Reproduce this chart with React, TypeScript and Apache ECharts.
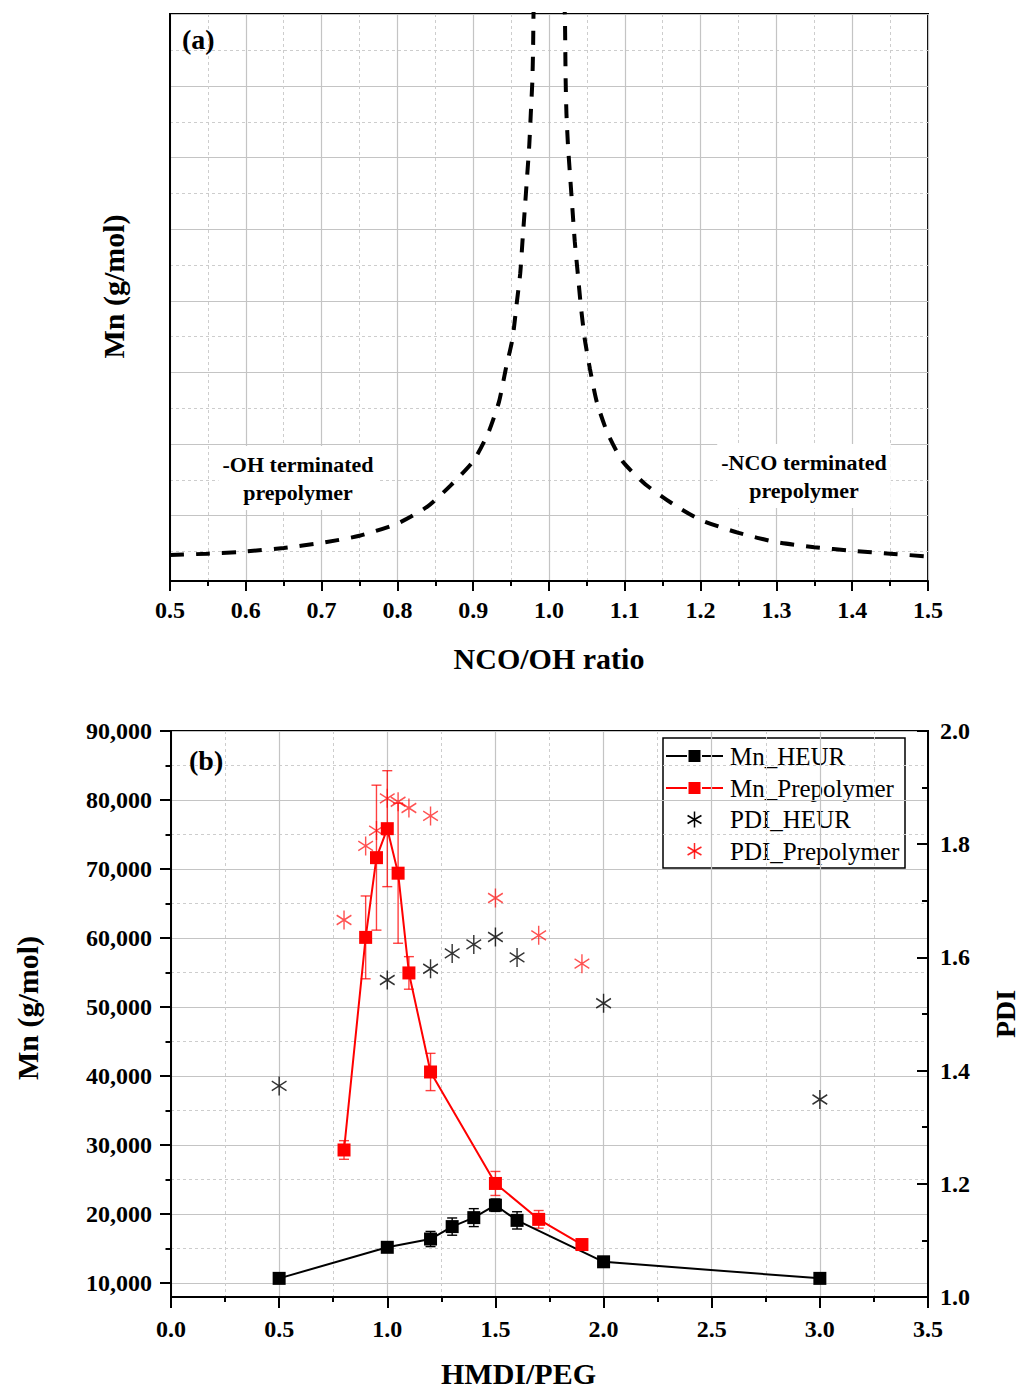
import React, { useEffect, useRef } from 'react';
import * as echarts from 'echarts';

const FONT = 'Liberation Serif';

// ---------- Panel (a): theoretical Mn vs NCO/OH ratio (relative units) ----------
const ohBranch: [number, number][] = [
  [0.5, 4.5], [0.55, 4.7], [0.6, 5.0], [0.65, 5.5], [0.7, 6.2], [0.75, 7.2], [0.8, 8.9],
  [0.84, 11.3], [0.87, 14.2], [0.9, 17.6], [0.92, 21.6], [0.934, 25.9], [0.943, 30.5],
  [0.952, 34.8], [0.957, 39.3], [0.962, 43.8], [0.965, 48.3], [0.968, 52.7], [0.971, 57.2],
  [0.974, 61.8], [0.976, 66.2], [0.978, 70.6], [0.979, 75.2], [0.9795, 79.7], [0.98, 82],
];
const ncoBranch: [number, number][] = [
  [1.02, 82], [1.021, 79.7], [1.0215, 75.2], [1.022, 70.6], [1.023, 66.2], [1.025, 61.8],
  [1.028, 57.2], [1.031, 52.7], [1.034, 48.3], [1.038, 43.8], [1.042, 39.3], [1.047, 34.8],
  [1.054, 30.5], [1.063, 25.9], [1.077, 21.6], [1.097, 17.6], [1.127, 14.4], [1.164, 11.6],
  [1.2, 9.4], [1.25, 7.6], [1.3, 6.3], [1.35, 5.6], [1.4, 5.1], [1.45, 4.7], [1.5, 4.3],
];

// ---------- Panel (b) ----------
const hmdiHeur = [0.5, 1.0, 1.2, 1.3, 1.4, 1.5, 1.6, 2.0, 3.0];
const mnHeur = [10700, 15200, 16400, 18200, 19500, 21300, 19100, 13100, 10700];
const mnHeurErr = [0, 0, 1100, 1250, 1300, 900, 1250, 0, 0];
const pdiHeur = [1.373, 1.56, 1.58, 1.607, 1.623, 1.636, 1.6, 1.519, 1.349];

const hmdiPrep = [0.8, 0.9, 0.95, 1.0, 1.05, 1.1, 1.2, 1.5, 1.7, 1.9];
const mnPrep = [29300, 60100, 71650, 75850, 69400, 54950, 40600, 24450, 19250, 15600];
const mnPrepErr = [1350, 6000, 10500, 8400, 10150, 2360, 2700, 1740, 1280, 0];
const pdiPrep = [1.666, 1.797, 1.824, 1.881, 1.875, 1.864, 1.85, 1.705, 1.639, 1.589];

const mnTicks = [10000, 20000, 30000, 40000, 50000, 60000, 70000, 80000, 90000];

const SERIES_NAMES = ['Mn_HEUR', 'Mn_Prepolymer', 'PDI_HEUR', 'PDI_Prepolymer'];

const RED = '#ff0000';
const RED_STAR = 'rgba(255,0,0,0.85)';
const RED_BAR = 'rgba(255,0,0,0.75)';
const STAR_PATH = 'path://M0,-10L0,10M-8.66,-5L8.66,5M-8.66,5L8.66,-5';

const axisLineStyle = { color: '#000', width: 2 };
const gridSolid = { color: '#c4c4c4', width: 1.2 };
const gridDash = { color: '#cdcdcd', width: 1, type: [3, 3] };
const labelFont = { fontFamily: FONT, fontWeight: 'bold', fontSize: 24, color: '#000' };
const nameFont = { fontFamily: FONT, fontWeight: 'bold', fontSize: 30, color: '#000' };

function errorData(xs: number[], ys: number[], es: number[]) {
  return xs
    .map((x, i) => [x, ys[i] - es[i], ys[i] + es[i], es[i]])
    .filter((d) => d[3] > 0)
    .map((d) => [d[0], d[1], d[2]]);
}

function errorRender(color: string) {
  return (params: any, api: any) => {
    const x = api.value(0);
    const top = api.coord([x, api.value(2)]);
    const bot = api.coord([x, api.value(1)]);
    const hw = 5;
    const st = { stroke: color, lineWidth: 1.4 };
    return {
      type: 'group',
      children: [
        { type: 'line', shape: { x1: top[0], y1: top[1], x2: bot[0], y2: bot[1] }, style: st },
        { type: 'line', shape: { x1: top[0] - hw, y1: top[1], x2: top[0] + hw, y2: top[1] }, style: st },
        { type: 'line', shape: { x1: bot[0] - hw, y1: bot[1], x2: bot[0] + hw, y2: bot[1] }, style: st },
      ],
    };
  };
}

function starGraphic(cx: number, cy: number, color: string) {
  const r = 8;
  const dx = r * 0.866;
  const dy = r * 0.5;
  const st = { stroke: color, lineWidth: 1.5 };
  return {
    type: 'group',
    x: cx,
    y: cy,
    children: [
      { type: 'line', shape: { x1: 0, y1: -r, x2: 0, y2: r }, style: st },
      { type: 'line', shape: { x1: -dx, y1: -dy, x2: dx, y2: dy }, style: st },
      { type: 'line', shape: { x1: -dx, y1: dy, x2: dx, y2: -dy }, style: st },
    ],
  };
}

function buildLegend() {
  const rows = [756, 788, 819.5, 851];
  const colors = ['#000', RED, '#000', RED_STAR];
  const children: any[] = [
    {
      type: 'rect',
      shape: { x: 663, y: 738, width: 242, height: 130 },
      style: { fill: '#fff', stroke: '#000', lineWidth: 1.5 },
    },
  ];
  SERIES_NAMES.forEach((name, i) => {
    const y = rows[i];
    const c = colors[i];
    if (i < 2) {
      children.push({ type: 'line', shape: { x1: 666, y1: y, x2: 687, y2: y }, style: { stroke: c, lineWidth: 2 } });
      children.push({ type: 'line', shape: { x1: 702, y1: y, x2: 723, y2: y }, style: { stroke: c, lineWidth: 2 } });
      children.push({ type: 'rect', shape: { x: 688.5, y: y - 6, width: 12, height: 12 }, style: { fill: c } });
    } else {
      children.push(starGraphic(694.5, y, c));
    }
    children.push({
      type: 'text',
      x: 730,
      y,
      style: {
        text: name,
        fontFamily: FONT,
        fontSize: 25,
        fill: '#000',
        align: 'left',
        verticalAlign: 'middle',
        textAlign: 'left',
        textVerticalAlign: 'middle',
      },
    });
  });
  return { type: 'group', z: 100, children };
}

function annotation(text: string, x: number, y: number) {
  return {
    type: 'text',
    x,
    y,
    z: 100,
    style: {
      text,
      fontFamily: FONT,
      fontWeight: 'bold',
      fontSize: 22,
      lineHeight: 28,
      fill: '#000',
      align: 'center',
      verticalAlign: 'middle',
      textAlign: 'center',
      textVerticalAlign: 'middle',
      backgroundColor: '#fff',
      padding: [4, 4],
    },
  };
}

function panelLabel(text: string, x: number, y: number) {
  return {
    type: 'text',
    x,
    y,
    z: 100,
    style: {
      text,
      fontFamily: FONT,
      fontWeight: 'bold',
      fontSize: 28,
      fill: '#000',
      align: 'left',
      verticalAlign: 'middle',
      textAlign: 'left',
      textVerticalAlign: 'middle',
    },
  };
}

const curveStyle = { color: '#000', width: 4, type: [14, 12] };

const option: any = {
  animation: false,
  backgroundColor: '#fff',
  grid: [
    { left: 170, top: 14, width: 758, height: 567, show: true, borderColor: '#000', borderWidth: 2, backgroundColor: 'transparent', outerBoundsMode: 'none' },
    { left: 171, top: 731, width: 757, height: 566, show: true, borderColor: '#000', borderWidth: 2, backgroundColor: 'transparent', outerBoundsMode: 'none' },
  ],
  xAxis: [
    {
      gridIndex: 0,
      type: 'value',
      min: 0.5,
      max: 1.5,
      interval: 0.1,
      axisLine: { onZero: false, lineStyle: axisLineStyle },
      axisTick: { show: true, length: 10, lineStyle: { color: '#000', width: 2 } },
      minorTick: { show: true, splitNumber: 2, length: 5, lineStyle: { color: '#000', width: 2 } },
      splitLine: { show: true, lineStyle: gridSolid },
      minorSplitLine: { show: true, lineStyle: gridDash },
      axisLabel: { ...labelFont, margin: 17, formatter: (v: number) => v.toFixed(1) },
      name: 'NCO/OH ratio',
      nameLocation: 'middle',
      nameGap: 62,
      nameTextStyle: nameFont,
    },
    {
      gridIndex: 1,
      type: 'value',
      min: 0,
      max: 3.5,
      interval: 0.5,
      axisLine: { onZero: false, lineStyle: axisLineStyle },
      axisTick: { show: true, length: 11, lineStyle: { color: '#000', width: 2 } },
      minorTick: { show: true, splitNumber: 2, length: 5, lineStyle: { color: '#000', width: 2 } },
      splitLine: { show: true, lineStyle: gridSolid },
      minorSplitLine: { show: true, lineStyle: gridDash },
      axisLabel: { ...labelFont, margin: 20, formatter: (v: number) => v.toFixed(1) },
      name: 'HMDI/PEG',
      nameLocation: 'middle',
      nameGap: 61,
      nameTextStyle: { ...nameFont, padding: [0, 62, 0, 0] },
    },
  ],
  yAxis: [
    {
      gridIndex: 0,
      type: 'value',
      min: 0.88,
      max: 80.07,
      splitNumber: 8,
      axisLine: { show: true, onZero: false, lineStyle: axisLineStyle },
      axisTick: { show: false },
      minorTick: { show: false, splitNumber: 2 },
      axisLabel: { show: false },
      splitLine: { show: true, lineStyle: gridSolid },
      minorSplitLine: { show: true, lineStyle: gridDash },
      name: 'Mn (g/mol)',
      nameLocation: 'middle',
      nameGap: 42,
      nameRotate: 90,
      nameTextStyle: { ...nameFont, padding: [0, 0, 0, 22] },
    },
    {
      gridIndex: 1,
      type: 'value',
      min: 8000,
      max: 90000,
      splitNumber: 8,
      axisLine: { show: true, onZero: false, lineStyle: axisLineStyle },
      axisTick: { show: true, length: 11, customValues: mnTicks, lineStyle: { color: '#000', width: 2 } },
      minorTick: { show: true, splitNumber: 2, length: 5.5, lineStyle: { color: '#000', width: 2 } },
      axisLabel: {
        ...labelFont,
        margin: 19,
        customValues: mnTicks,
        formatter: (v: number) => v.toLocaleString('en-US'),
      },
      splitLine: { show: true, lineStyle: gridSolid },
      minorSplitLine: { show: true, lineStyle: gridDash },
      name: 'Mn (g/mol)',
      nameLocation: 'middle',
      nameGap: 129,
      nameRotate: 90,
      nameTextStyle: { ...nameFont, padding: [0, 0, 0, 12] },
    },
    {
      gridIndex: 1,
      type: 'value',
      position: 'right',
      min: 1.0,
      max: 2.0,
      interval: 0.2,
      axisLine: { show: true, onZero: false, lineStyle: axisLineStyle },
      axisTick: { show: true, inside: true, length: 11, lineStyle: { color: '#000', width: 2 } },
      minorTick: { show: true, splitNumber: 2, length: 6, lineStyle: { color: '#000', width: 2 } },
      axisLabel: { ...labelFont, margin: 12, formatter: (v: number) => v.toFixed(1) },
      splitLine: { show: false },
      minorSplitLine: { show: false },
      name: 'PDI',
      nameLocation: 'middle',
      nameGap: 63,
      nameRotate: 90,
      nameTextStyle: { ...nameFont, fontSize: 28 },
    },
  ],
  series: [
    {
      type: 'line',
      xAxisIndex: 0,
      yAxisIndex: 0,
      data: ohBranch,
      showSymbol: false,
      smooth: 0.2,
      clip: true,
      lineStyle: curveStyle,
    },
    {
      type: 'line',
      xAxisIndex: 0,
      yAxisIndex: 0,
      data: ncoBranch,
      showSymbol: false,
      smooth: 0.2,
      clip: true,
      lineStyle: curveStyle,
    },
    {
      type: 'custom',
      xAxisIndex: 1,
      yAxisIndex: 1,
      z: 1,
      data: errorData(hmdiHeur, mnHeur, mnHeurErr),
      encode: { x: 0, y: [1, 2] },
      renderItem: errorRender('#000'),
    },
    {
      type: 'custom',
      xAxisIndex: 1,
      yAxisIndex: 1,
      z: 1,
      data: errorData(hmdiPrep, mnPrep, mnPrepErr),
      encode: { x: 0, y: [1, 2] },
      renderItem: errorRender(RED_BAR),
    },
    {
      name: SERIES_NAMES[0],
      type: 'line',
      xAxisIndex: 1,
      yAxisIndex: 1,
      z: 3,
      data: hmdiHeur.map((x, i) => [x, mnHeur[i]]),
      symbol: 'rect',
      symbolSize: 13,
      itemStyle: { color: '#000' },
      lineStyle: { color: '#000', width: 2 },
    },
    {
      name: SERIES_NAMES[1],
      type: 'line',
      xAxisIndex: 1,
      yAxisIndex: 1,
      z: 3,
      data: hmdiPrep.map((x, i) => [x, mnPrep[i]]),
      symbol: 'rect',
      symbolSize: 13,
      itemStyle: { color: RED },
      lineStyle: { color: RED, width: 2 },
    },
    {
      name: SERIES_NAMES[2],
      type: 'scatter',
      xAxisIndex: 1,
      yAxisIndex: 2,
      z: 4,
      data: hmdiHeur.map((x, i) => [x, pdiHeur[i]]),
      symbol: STAR_PATH,
      symbolSize: [17, 19],
      symbolKeepAspect: true,
      itemStyle: { color: 'rgba(0,0,0,0)', borderColor: '#000', borderWidth: 1.5 },
    },
    {
      name: SERIES_NAMES[3],
      type: 'scatter',
      xAxisIndex: 1,
      yAxisIndex: 2,
      z: 4,
      data: hmdiPrep.map((x, i) => [x, pdiPrep[i]]),
      symbol: STAR_PATH,
      symbolSize: [17, 19],
      symbolKeepAspect: true,
      itemStyle: { color: 'rgba(0,0,0,0)', borderColor: RED_STAR, borderWidth: 1.5 },
    },
  ],
  graphic: [
    panelLabel('(a)', 182, 39),
    panelLabel('(b)', 189, 760),
    annotation('-OH terminated\nprepolymer', 298, 478),
    annotation('-NCO terminated\nprepolymer', 804, 476),
    buildLegend(),
  ],
};

export default function App() {
  const ref = useRef<HTMLDivElement>(null);
  useEffect(() => {
    if (!ref.current) return;
    const chart = echarts.init(ref.current, undefined, { renderer: 'svg' });
    chart.setOption(option);
    return () => chart.dispose();
  }, []);
  return (
    <div
      ref={ref}
      style={{ position: 'absolute', left: 0, top: 0, width: 1021, height: 1388, background: '#fff' }}
    />
  );
}
